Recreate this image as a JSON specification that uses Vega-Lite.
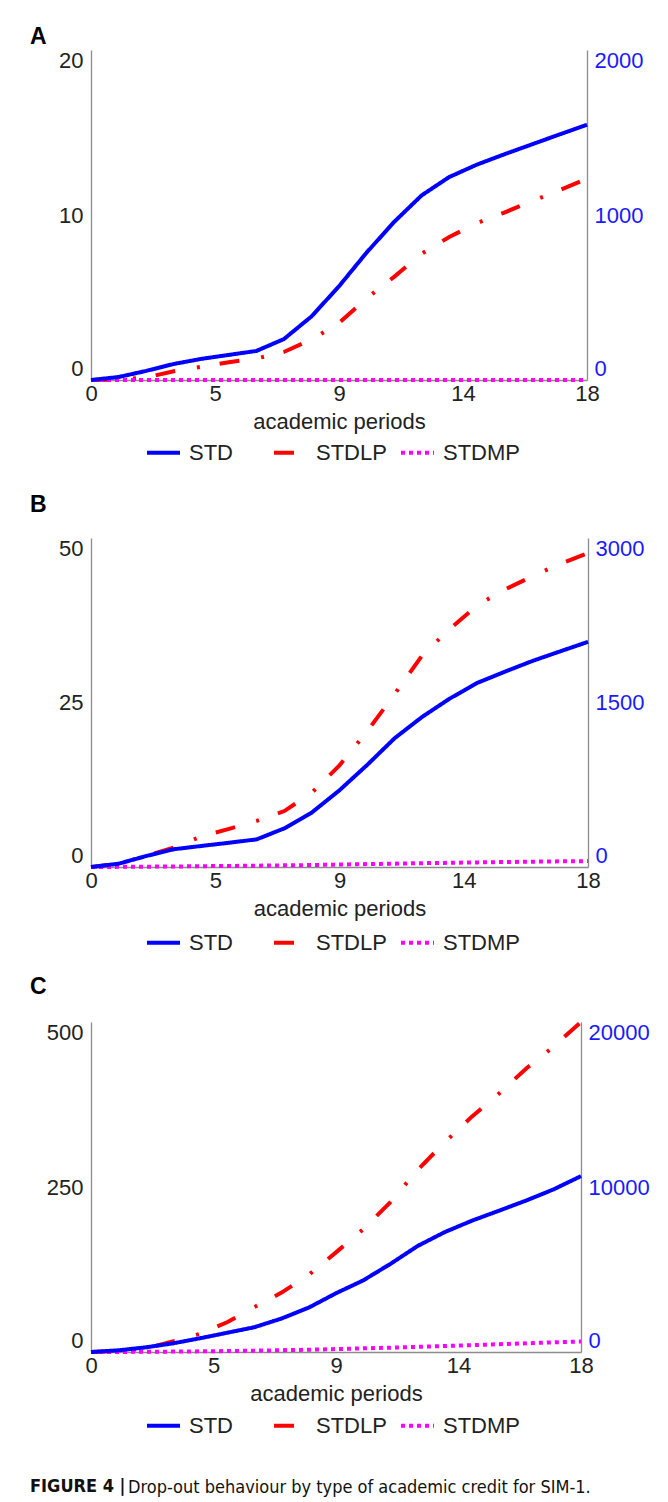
{
  "$schema": "https://vega.github.io/schema/vega-lite/v6.json",
  "background": "white",
  "padding": {"left": 30, "top": 26, "right": 8, "bottom": 8},
  "config": {
    "font": "Liberation Sans",
    "view": {"stroke": null},
    "axis": {
      "grid": false, "ticks": false, "tickSize": 0,
      "domainColor": "#8c8c8c", "domainWidth": 1.3,
      "labelFont": "Liberation Sans", "labelFontSize": 22, "labelColor": "#222222",
      "titleFont": "Liberation Sans", "titleFontSize": 22, "titleFontWeight": "normal", "titleColor": "#222222"
    },
    "legend": {
      "direction": "horizontal", "columns": 3, "gridAlign": "all",
      "columnPadding": 0, "symbolType": "stroke", "symbolSize": 1089, "symbolStrokeWidth": 4,
      "labelFont": "Liberation Sans", "labelFontSize": 22, "labelColor": "#222222", "labelOffset": 7,
      "padding": 0, "title": null
    },
    "title": {"font": "Liberation Sans", "fontSize": 23, "fontWeight": "bold", "color": "#000000", "anchor": "start", "frame": "group"}
  },
  "datasets": {
    "a": [
      {"period":0,"series":"STD","value":0},{"period":1,"series":"STD","value":18},{"period":2,"series":"STD","value":55},{"period":3,"series":"STD","value":97},{"period":4,"series":"STD","value":128},{"period":5,"series":"STD","value":152},{"period":6,"series":"STD","value":176},{"period":7,"series":"STD","value":248},{"period":8,"series":"STD","value":385},{"period":9,"series":"STD","value":568},{"period":10,"series":"STD","value":772},{"period":11,"series":"STD","value":958},{"period":12,"series":"STD","value":1119},{"period":13,"series":"STD","value":1230},{"period":14,"series":"STD","value":1305},{"period":15,"series":"STD","value":1368},{"period":16,"series":"STD","value":1428},{"period":17,"series":"STD","value":1488},{"period":18,"series":"STD","value":1547},
      {"period":0,"series":"STDLP","value":0},{"period":1,"series":"STDLP","value":0.03},{"period":2,"series":"STDLP","value":0.15},{"period":3,"series":"STDLP","value":0.53},{"period":4,"series":"STDLP","value":0.8},{"period":5,"series":"STDLP","value":1.08},{"period":6,"series":"STDLP","value":1.3},{"period":7,"series":"STDLP","value":1.7},{"period":8,"series":"STDLP","value":2.45},{"period":9,"series":"STDLP","value":3.45},{"period":10,"series":"STDLP","value":4.95},{"period":11,"series":"STDLP","value":6.25},{"period":12,"series":"STDLP","value":7.65},{"period":13,"series":"STDLP","value":8.67},{"period":14,"series":"STDLP","value":9.5},{"period":15,"series":"STDLP","value":10.15},{"period":16,"series":"STDLP","value":10.83},{"period":17,"series":"STDLP","value":11.5},{"period":18,"series":"STDLP","value":12.2},
      {"period":0,"series":"STDMP","value":0},{"period":1,"series":"STDMP","value":0},{"period":2,"series":"STDMP","value":0},{"period":3,"series":"STDMP","value":0},{"period":4,"series":"STDMP","value":0},{"period":5,"series":"STDMP","value":0},{"period":6,"series":"STDMP","value":0},{"period":7,"series":"STDMP","value":0},{"period":8,"series":"STDMP","value":0},{"period":9,"series":"STDMP","value":0},{"period":10,"series":"STDMP","value":0},{"period":11,"series":"STDMP","value":0},{"period":12,"series":"STDMP","value":0},{"period":13,"series":"STDMP","value":0},{"period":14,"series":"STDMP","value":0},{"period":15,"series":"STDMP","value":0},{"period":16,"series":"STDMP","value":0},{"period":17,"series":"STDMP","value":0},{"period":18,"series":"STDMP","value":0}
    ],
    "b": [
      {"period":0,"series":"STD","value":0},{"period":1,"series":"STD","value":30},{"period":2,"series":"STD","value":100},{"period":3,"series":"STD","value":162},{"period":4,"series":"STD","value":192},{"period":5,"series":"STD","value":221},{"period":6,"series":"STD","value":252},{"period":7,"series":"STD","value":352},{"period":8,"series":"STD","value":497},{"period":9,"series":"STD","value":700},{"period":10,"series":"STD","value":930},{"period":11,"series":"STD","value":1175},{"period":12,"series":"STD","value":1370},{"period":13,"series":"STD","value":1537},{"period":14,"series":"STD","value":1680},{"period":15,"series":"STD","value":1782},{"period":16,"series":"STD","value":1880},{"period":17,"series":"STD","value":1967},{"period":18,"series":"STD","value":2053},
      {"period":0,"series":"STDLP","value":0},{"period":1,"series":"STDLP","value":0.5},{"period":2,"series":"STDLP","value":1.7},{"period":3,"series":"STDLP","value":2.95},{"period":4,"series":"STDLP","value":4.65},{"period":5,"series":"STDLP","value":5.8},{"period":6,"series":"STDLP","value":7.0},{"period":7,"series":"STDLP","value":8.5},{"period":8,"series":"STDLP","value":11.3},{"period":9,"series":"STDLP","value":15.45},{"period":10,"series":"STDLP","value":20.6},{"period":11,"series":"STDLP","value":26.3},{"period":12,"series":"STDLP","value":32.2},{"period":13,"series":"STDLP","value":36.2},{"period":14,"series":"STDLP","value":39.8},{"period":15,"series":"STDLP","value":42.2},{"period":16,"series":"STDLP","value":44.2},{"period":17,"series":"STDLP","value":46.1},{"period":18,"series":"STDLP","value":47.7},
      {"period":0,"series":"STDMP","value":0},{"period":1,"series":"STDMP","value":0.02},{"period":2,"series":"STDMP","value":0.05},{"period":3,"series":"STDMP","value":0.08},{"period":4,"series":"STDMP","value":0.12},{"period":5,"series":"STDMP","value":0.16},{"period":6,"series":"STDMP","value":0.2},{"period":7,"series":"STDMP","value":0.25},{"period":8,"series":"STDMP","value":0.3},{"period":9,"series":"STDMP","value":0.37},{"period":10,"series":"STDMP","value":0.44},{"period":11,"series":"STDMP","value":0.51},{"period":12,"series":"STDMP","value":0.58},{"period":13,"series":"STDMP","value":0.64},{"period":14,"series":"STDMP","value":0.7},{"period":15,"series":"STDMP","value":0.76},{"period":16,"series":"STDMP","value":0.81},{"period":17,"series":"STDMP","value":0.86},{"period":18,"series":"STDMP","value":0.9}
    ],
    "c": [
      {"period":0,"series":"STD","value":0},{"period":1,"series":"STD","value":100},{"period":2,"series":"STD","value":280},{"period":3,"series":"STD","value":520},{"period":4,"series":"STD","value":830},{"period":5,"series":"STD","value":1165},{"period":6,"series":"STD","value":1500},{"period":7,"series":"STD","value":2030},{"period":8,"series":"STD","value":2690},{"period":9,"series":"STD","value":3560},{"period":10,"series":"STD","value":4340},{"period":11,"series":"STD","value":5340},{"period":12,"series":"STD","value":6426},{"period":13,"series":"STD","value":7270},{"period":14,"series":"STD","value":7963},{"period":15,"series":"STD","value":8570},{"period":16,"series":"STD","value":9190},{"period":17,"series":"STD","value":9860},{"period":18,"series":"STD","value":10660},
      {"period":0,"series":"STDLP","value":0},{"period":1,"series":"STDLP","value":1.5},{"period":2,"series":"STDLP","value":5},{"period":3,"series":"STDLP","value":16},{"period":4,"series":"STDLP","value":27.5},{"period":5,"series":"STDLP","value":45},{"period":6,"series":"STDLP","value":68},{"period":7,"series":"STDLP","value":90},{"period":8,"series":"STDLP","value":117},{"period":9,"series":"STDLP","value":151},{"period":10,"series":"STDLP","value":186},{"period":11,"series":"STDLP","value":227},{"period":12,"series":"STDLP","value":276},{"period":13,"series":"STDLP","value":318},{"period":14,"series":"STDLP","value":357},{"period":15,"series":"STDLP","value":392},{"period":16,"series":"STDLP","value":430},{"period":17,"series":"STDLP","value":463},{"period":18,"series":"STDLP","value":500},
      {"period":0,"series":"STDMP","value":0},{"period":1,"series":"STDMP","value":0.1},{"period":2,"series":"STDMP","value":0.3},{"period":3,"series":"STDMP","value":0.6},{"period":4,"series":"STDMP","value":1.0},{"period":5,"series":"STDMP","value":1.4},{"period":6,"series":"STDMP","value":2.0},{"period":7,"series":"STDMP","value":2.7},{"period":8,"series":"STDMP","value":3.5},{"period":9,"series":"STDMP","value":4.4},{"period":10,"series":"STDMP","value":5.5},{"period":11,"series":"STDMP","value":6.6},{"period":12,"series":"STDMP","value":7.8},{"period":13,"series":"STDMP","value":9.1},{"period":14,"series":"STDMP","value":10.4},{"period":15,"series":"STDMP","value":11.8},{"period":16,"series":"STDMP","value":13.2},{"period":17,"series":"STDMP","value":14.6},{"period":18,"series":"STDMP","value":16.0}
    ]
  },
  "title": {
    "text": "Drop-out behaviour by type of academic credit for SIM-1.",
    "orient": "bottom", "anchor": "start", "frame": "bounds",
    "font": "DejaVu Sans Condensed", "fontSize": 18, "fontWeight": "normal", "color": "#111111", "offset": 0, "dx": 98, "dy": -17
  },
  "spacing": 30,
  "resolve": {"scale": {"color": "independent", "strokeDash": "independent"}, "legend": {"color": "independent", "strokeDash": "independent"}},
  "vconcat": [
    {
      "title": {"text": "A", "dx": -61, "offset": 0},
      "width": 496, "height": 330,
      "data": {"name": "a"},
      "encoding": {
        "x": {"field": "period", "type": "quantitative", "scale": {"domain": [0, 18], "nice": false, "zero": false},
              "axis": {"values": [0, 4.5, 9, 13.5, 18], "labelExpr": "round(datum.value)", "labelFlush": false, "labelPadding": 3, "title": "academic periods", "titlePadding": 7}},
        "color": {"field": "series", "type": "nominal", "scale": {"domain": ["STD", "STDLP", "STDMP"], "range": ["#0000ff", "#ff0000", "#ff00ff"]},
                  "legend": {"orient": "none", "legendX": 54, "legendY": 384}},
        "strokeDash": {"field": "series", "type": "nominal", "scale": {"domain": ["STD", "STDLP", "STDMP"], "range": [[1, 0], [20, 22, 3, 20], [4, 4]]},
                  "legend": {"orient": "none", "legendX": 54, "legendY": 384}}
      },
      "layer": [
        {"transform": [{"filter": "datum.series != 'STD'"}], "mark": {"type": "line", "strokeWidth": 4},
         "encoding": {"y": {"field": "value", "type": "quantitative", "scale": {"domain": [0, 20], "nice": false},
           "axis": {"orient": "left", "values": [0, 10, 20], "title": null, "labelFlush": true, "labelPadding": 8}}}},
        {"transform": [{"filter": "datum.series == 'STD'"}], "mark": {"type": "line", "strokeWidth": 4},
         "encoding": {"y": {"field": "value", "type": "quantitative", "scale": {"domain": [0, 2000], "nice": false},
           "axis": {"orient": "right", "values": [0, 1000, 2000], "format": "d", "title": null, "labelFlush": true, "labelPadding": 7, "labelColor": "#1a1aff"}}}}
      ],
      "resolve": {"scale": {"y": "independent"}}
    },
    {
      "spacing": 22,
      "title": {
        "text": "FIGURE 4 |", "orient": "bottom", "anchor": "start", "frame": "bounds",
        "font": "DejaVu Sans Condensed", "fontSize": 18, "fontWeight": "bold", "color": "#111111", "offset": 41
      },
      "resolve": {"scale": {"color": "independent", "strokeDash": "independent"}, "legend": {"color": "independent", "strokeDash": "independent"}},
      "vconcat": [
        {
          "title": {"text": "B", "dx": -61, "offset": 20},
          "width": 497, "height": 329,
          "data": {"name": "b"},
          "encoding": {
            "x": {"field": "period", "type": "quantitative", "scale": {"domain": [0, 18], "nice": false, "zero": false},
                  "axis": {"values": [0, 4.5, 9, 13.5, 18], "labelExpr": "round(datum.value)", "labelFlush": false, "labelPadding": 3, "title": "academic periods", "titlePadding": 7}},
            "color": {"field": "series", "type": "nominal", "scale": {"domain": ["STD", "STDLP", "STDMP"], "range": ["#0000ff", "#ff0000", "#ff00ff"]},
                      "legend": {"orient": "none", "legendX": 54, "legendY": 386}},
            "strokeDash": {"field": "series", "type": "nominal", "scale": {"domain": ["STD", "STDLP", "STDMP"], "range": [[1, 0], [20, 22, 3, 20], [4, 4]]},
                      "legend": {"orient": "none", "legendX": 54, "legendY": 386}}
          },
          "layer": [
            {"transform": [{"filter": "datum.series != 'STD'"}], "mark": {"type": "line", "strokeWidth": 4},
             "encoding": {"y": {"field": "value", "type": "quantitative", "scale": {"domain": [0, 50], "nice": false},
               "axis": {"orient": "left", "values": [0, 25, 50], "title": null, "labelFlush": true, "labelPadding": 8}}}},
            {"transform": [{"filter": "datum.series == 'STD'"}], "mark": {"type": "line", "strokeWidth": 4},
             "encoding": {"y": {"field": "value", "type": "quantitative", "scale": {"domain": [0, 3000], "nice": false},
               "axis": {"orient": "right", "values": [0, 1500, 3000], "format": "d", "title": null, "labelFlush": true, "labelPadding": 7, "labelColor": "#1a1aff"}}}}
          ],
          "resolve": {"scale": {"y": "independent"}}
        },
        {
          "title": {"text": "C", "dx": -61, "offset": 15},
          "width": 490, "height": 330,
          "data": {"name": "c"},
          "encoding": {
            "x": {"field": "period", "type": "quantitative", "scale": {"domain": [0, 18], "nice": false, "zero": false},
                  "axis": {"values": [0, 4.5, 9, 13.5, 18], "labelExpr": "round(datum.value)", "labelFlush": false, "labelPadding": 3, "title": "academic periods", "titlePadding": 7}},
            "color": {"field": "series", "type": "nominal", "scale": {"domain": ["STD", "STDLP", "STDMP"], "range": ["#0000ff", "#ff0000", "#ff00ff"]},
                      "legend": {"orient": "none", "legendX": 54, "legendY": 385}},
            "strokeDash": {"field": "series", "type": "nominal", "scale": {"domain": ["STD", "STDLP", "STDMP"], "range": [[1, 0], [20, 22, 3, 20], [4, 4]]},
                      "legend": {"orient": "none", "legendX": 54, "legendY": 385}}
          },
          "layer": [
            {"transform": [{"filter": "datum.series != 'STD'"}], "mark": {"type": "line", "strokeWidth": 4},
             "encoding": {"y": {"field": "value", "type": "quantitative", "scale": {"domain": [0, 500], "nice": false},
               "axis": {"orient": "left", "values": [0, 250, 500], "title": null, "labelFlush": true, "labelPadding": 8}}}},
            {"transform": [{"filter": "datum.series == 'STD'"}], "mark": {"type": "line", "strokeWidth": 4},
             "encoding": {"y": {"field": "value", "type": "quantitative", "scale": {"domain": [0, 20000], "nice": false},
               "axis": {"orient": "right", "values": [0, 10000, 20000], "format": "d", "title": null, "labelFlush": true, "labelPadding": 7, "labelColor": "#1a1aff"}}}}
          ],
          "resolve": {"scale": {"y": "independent"}}
        }
      ]
    }
  ]
}
